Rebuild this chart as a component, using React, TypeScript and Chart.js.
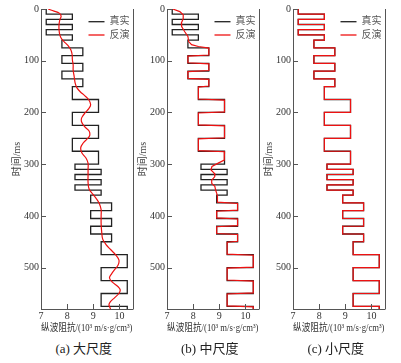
import React, { useEffect, useRef } from "react";
import { Chart, registerables } from "chart.js";

Chart.register(...registerables);

// ---- data ----
const LAYER_TOP_MS = [
  0, 10, 20, 30, 40, 50,
  60, 75, 90, 105, 120, 135,
  150, 175, 200, 225, 250, 275,
  300, 310, 320, 330, 340, 350,
  360, 375, 390, 405, 420, 435,
  450, 475, 500, 525, 550, 575,
];
const LAYER_END_MS = 580;
const TRUE_IMP = [
  7.2, 8.2, 7.2, 8.2, 7.2, 8.2,
  7.8, 8.6, 7.8, 8.6, 7.8, 8.6,
  8.2, 9.2, 8.2, 9.2, 8.2, 9.2,
  8.3, 9.3, 8.3, 9.3, 8.3, 9.3,
  8.9, 9.7, 8.9, 9.7, 8.9, 9.7,
  9.3, 10.3, 9.3, 10.3, 9.3, 10.3,
];

// (a) large scale inversion
const REDA_MS = [
  0, 4, 8, 14, 21, 30, 40, 50, 57, 63, 70, 79, 88, 98, 108, 118, 131, 144, 152, 160,
  167, 175, 185, 193, 200, 210, 218, 227, 236, 245, 252, 260, 268, 278, 288, 298,
  310, 322, 335, 348, 358, 367, 376, 388, 400, 415, 430, 445, 455, 465, 475, 485,
  495, 505, 512, 520, 528, 537, 543, 550, 558, 566, 572, 580,
];
const REDA_IMP = [
  7.27, 7.5, 7.7, 7.77, 7.72, 7.69, 7.69, 7.72, 7.78, 7.88, 8.02, 8.14, 8.19, 8.2, 8.23, 8.23, 8.27, 8.31, 8.37, 8.5,
  8.66, 8.82, 8.9, 8.82, 8.7, 8.56, 8.55, 8.66, 8.84, 8.86, 8.75, 8.6, 8.52, 8.56, 8.72, 8.8,
  8.8, 8.8, 8.8, 8.84, 8.98, 9.12, 9.23, 9.3, 9.3, 9.3, 9.32, 9.36, 9.48, 9.66, 9.85, 9.98,
  9.95, 9.8, 9.7, 9.62, 9.73, 9.95, 10.03, 9.98, 9.82, 9.65, 9.6, 9.66,
];

// (b) medium scale inversion
const REDB_MS = [
  0, 5, 11, 19, 27, 34, 44, 53, 63, 69, 72.5, 75.5,
  89, 91, 104, 106, 119, 121, 134, 136, 149, 151,
  174, 176, 199, 201, 224, 226, 249, 251, 274, 276, 292,
  298, 304.5, 311, 317.5, 324, 331, 337, 343, 350, 356, 362, 373.5,
  376, 389, 391, 404, 406, 419, 421, 434, 436, 449, 451,
  474, 476, 499, 501, 524, 526, 549, 551, 574, 576, 580,
];
const REDB_IMP = [
  7.22, 7.49, 7.62, 7.62, 7.55, 7.56, 7.68, 7.8, 7.83, 7.94, 8.2, 8.6,
  8.6, 7.8, 7.8, 8.6, 8.6, 7.8, 7.8, 8.6, 8.6, 8.2,
  8.2, 9.2, 9.2, 8.2, 8.2, 9.2, 9.2, 8.2, 8.2, 9.2, 9.19,
  8.96, 8.72, 8.68, 8.81, 8.83, 8.71, 8.71, 8.83, 8.86, 8.9, 8.93, 8.93,
  9.7, 9.7, 8.9, 8.9, 9.7, 9.7, 8.9, 8.9, 9.7, 9.7, 9.3,
  9.3, 10.3, 10.3, 9.3, 9.3, 10.3, 10.3, 9.3, 9.3, 10.3, 10.3,
];

// (c) small scale inversion (per layer, follows the true model)
const REDC_IMP = [
  7.2, 8.2, 7.2, 8.2, 7.2, 8.2,
  7.8, 8.6, 7.8, 8.6, 7.8, 8.6,
  8.2, 9.2, 8.2, 9.2, 8.2, 9.2,
  8.3, 9.3, 8.3, 9.3, 8.3, 9.3,
  8.9, 9.7, 8.9, 9.7, 8.9, 9.7,
  9.3, 10.3, 9.3, 10.3, 9.3, 10.3,
];

const Y_TICKS = [0, 100, 200, 300, 400, 500];
const X_TICKS = [7, 8, 9, 10];
const Y_MIN = 0;
const Y_MAX = 580;
const X_MIN = 7;
const X_MAX = 10.5;
const SERIES_LABELS = ["真实", "反演"];
const PANEL_TITLES = ["(a) 大尺度", "(b) 中尺度", "(c) 小尺度"];
const X_TITLE = "纵波阻抗/(10³ m/s·g/cm³)";
const Y_TITLE = "时间/ms";

// ---- styles ----
const FONT = '"Liberation Serif", "Noto Sans CJK SC", serif';
const AXIS_COLOR = "#555";
const TEXT_COLOR = "#333";
const TRUE_COLOR = "#222";
const RED_COLOR = "#ee1111";
const CANVAS_W = 136;
const CANVAS_H = 340;
const PANEL_LEFTS = [0, 126, 252];

function stepPoints(tops: number[], end: number, vals: number[]) {
  const pts: { x: number; y: number }[] = [];
  for (let i = 0; i < tops.length; i++) {
    const bottom = i + 1 < tops.length ? tops[i + 1] : end;
    pts.push({ x: vals[i], y: tops[i] });
    pts.push({ x: vals[i], y: bottom });
  }
  return pts;
}

function pairPoints(ms: number[], vals: number[]) {
  return ms.map((t, i) => ({ x: vals[i], y: t }));
}

const framePlugin = {
  id: "frameTicksLegend",
  afterDatasetsDraw(chart: any) {
    const { ctx, chartArea } = chart;
    const { left, right, top, bottom } = chartArea;
    const xs = chart.scales.x;
    const ys = chart.scales.y;
    ctx.save();
    ctx.strokeStyle = AXIS_COLOR;
    ctx.lineWidth = 1;
    ctx.beginPath();
    const rx = Math.round(right) + 0.5;
    ctx.moveTo(rx, top);
    ctx.lineTo(rx, bottom + 0.5);
    X_TICKS.forEach((v) => {
      const px = Math.round(xs.getPixelForValue(v)) + 0.5;
      ctx.moveTo(px, bottom);
      ctx.lineTo(px, bottom - 5);
    });
    Y_TICKS.forEach((v) => {
      const py = Math.round(ys.getPixelForValue(v)) + 0.5;
      ctx.moveTo(left, py);
      ctx.lineTo(left + 5, py);
    });
    ctx.stroke();

    // legend inside top-right
    const items = chart.data.datasets.filter((d: any) => d.legendRow !== undefined);
    items.forEach((ds: any) => {
      const y = top + 12.7 + ds.legendRow * 13.3;
      ctx.strokeStyle = ds.borderColor;
      ctx.lineWidth = 1.3;
      ctx.beginPath();
      ctx.moveTo(right - 44, y);
      ctx.lineTo(right - 28, y);
      ctx.stroke();
      ctx.fillStyle = "#555";
      ctx.font = `10px ${FONT}`;
      ctx.textBaseline = "middle";
      ctx.textAlign = "left";
      ctx.fillText(ds.label, right - 23, y);
    });
    ctx.restore();
  },
};

function Panel({ index }: { index: number }) {
  const ref = useRef<HTMLCanvasElement | null>(null);
  useEffect(() => {
    if (!ref.current) return;
    let redData: { x: number; y: number }[];
    let redTension = 0;
    if (index === 0) {
      redData = pairPoints(REDA_MS, REDA_IMP);
      redTension = 0.35;
    } else if (index === 1) {
      redData = pairPoints(REDB_MS, REDB_IMP);
    } else {
      redData = stepPoints(LAYER_TOP_MS, LAYER_END_MS, REDC_IMP);
    }
    const chart = new Chart(ref.current, {
      type: "scatter",
      data: {
        datasets: [
          {
            label: SERIES_LABELS[0],
            data: stepPoints(LAYER_TOP_MS, LAYER_END_MS, TRUE_IMP),
            showLine: true,
            borderColor: TRUE_COLOR,
            borderWidth: 1.3,
            pointRadius: 0,
            tension: 0,
            order: 2,
            legendRow: 0,
          } as any,
          {
            label: SERIES_LABELS[1],
            data: redData,
            showLine: true,
            borderColor: RED_COLOR,
            borderWidth: 1.2,
            pointRadius: 0,
            tension: redTension,
            order: 1,
            legendRow: 1,
          } as any,
        ],
      },
      options: {
        responsive: false,
        animation: false,
        events: [],
        devicePixelRatio: 1,
        layout: { padding: { left: 0, right: 3.5, top: 9, bottom: 0 } },
        plugins: {
          legend: { display: false },
          tooltip: { enabled: false },
          title: { display: false },
        },
        scales: {
          x: {
            type: "linear",
            position: "bottom",
            min: X_MIN,
            max: X_MAX,
            afterBuildTicks: (s: any) => {
              s.ticks = X_TICKS.map((v) => ({ value: v }));
            },
            afterFit: (s: any) => {
              s.height = 31;
            },
            grid: { display: true, drawOnChartArea: false, drawTicks: false },
            border: { display: true, color: AXIS_COLOR, width: 1 },
            ticks: {
              padding: 1,
              maxRotation: 0,
              autoSkip: false,
              color: TEXT_COLOR,
              font: { family: FONT, size: 10 },
            },
            title: {
              display: true,
              text: X_TITLE,
              color: TEXT_COLOR,
              font: { family: FONT, size: 10 },
              padding: { top: 0, bottom: 6 },
            },
          },
          y: {
            type: "linear",
            position: "left",
            reverse: true,
            min: Y_MIN,
            max: Y_MAX,
            afterBuildTicks: (s: any) => {
              s.ticks = Y_TICKS.map((v) => ({ value: v }));
            },
            afterFit: (s: any) => {
              s.width = 41;
            },
            grid: { display: true, drawOnChartArea: false, drawTicks: false },
            border: { display: true, color: AXIS_COLOR, width: 1 },
            ticks: {
              padding: 2,
              autoSkip: false,
              color: TEXT_COLOR,
              font: { family: FONT, size: 10 },
            },
            title: {
              display: true,
              text: Y_TITLE,
              color: "#444",
              font: { family: FONT, size: 10 },
              padding: { top: 11, bottom: 0 },
            },
          },
        },
      } as any,
      plugins: [framePlugin],
    });
    return () => chart.destroy();
  }, [index]);

  const left = PANEL_LEFTS[index];
  return (
    <>
      <canvas
        ref={ref}
        width={CANVAS_W}
        height={CANVAS_H}
        style={{ position: "absolute", left, top: 0, width: CANVAS_W, height: CANVAS_H }}
      />
      <div
        style={{
          position: "absolute",
          left: left + 38,
          top: 341,
          width: 91.5,
          textAlign: "center",
          fontFamily: FONT,
          fontSize: 13,
          lineHeight: "16px",
          color: "#222",
          whiteSpace: "nowrap",
        }}
      >
        {PANEL_TITLES[index]}
      </div>
    </>
  );
}

export default function App() {
  return (
    <div
      style={{
        position: "absolute",
        left: 0,
        top: 0,
        width: 401,
        height: 363,
        background: "#fff",
        overflow: "hidden",
      }}
    >
      <Panel index={0} />
      <Panel index={1} />
      <Panel index={2} />
    </div>
  );
}
